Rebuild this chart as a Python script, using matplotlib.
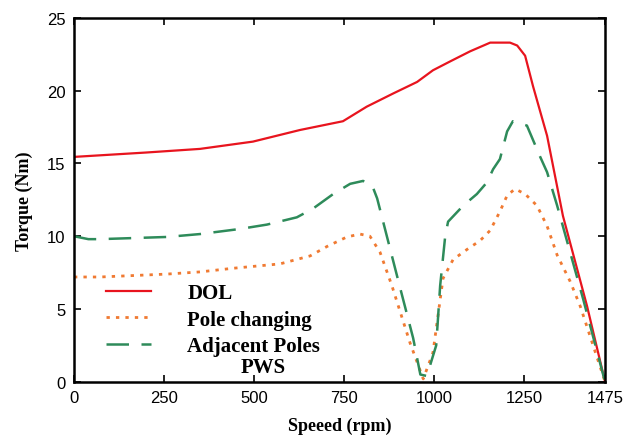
import matplotlib.pyplot as plt

# speed (rpm) / torque (Nm)
dol_speed = [0, 100, 200, 350, 497, 628, 747, 813, 886, 953, 997, 1044, 1100, 1156, 1211, 1231, 1253,
             1275, 1314, 1358, 1425, 1475]
dol_torque = [15.45, 15.6, 15.75, 16.0, 16.5, 17.3, 17.9, 18.9, 19.8, 20.6, 21.4, 22.0, 22.7, 23.3, 23.3,
              23.1, 22.4, 20.3, 16.9, 11.4, 5.2, 0.0]

pole_speed = [0, 72, 258, 350, 442, 572, 656, 703, 758, 794, 822, 850, 883, 933, 970, 997, 1025, 1053,
              1092, 1128, 1156, 1183, 1203, 1225, 1253, 1286, 1314, 1342, 1378, 1406, 1475]
pole_torque = [7.2, 7.2, 7.4, 7.55, 7.8, 8.1, 8.65, 9.3, 9.95, 10.15, 10.0, 8.9, 6.6, 2.7, 0.2, 2.0, 7.1,
               8.4, 9.1, 9.7, 10.4, 11.7, 12.8, 13.25, 12.9, 12.1, 10.7, 8.7, 6.9, 5.2, 0.0]

adj_speed = [0, 40, 72, 258, 350, 461, 536, 619, 664, 720, 767, 803, 828, 842, 869, 897, 942, 962, 980,
             1006, 1017, 1031, 1039, 1081, 1119, 1147, 1164, 1183, 1203, 1219, 1258, 1294, 1314, 1342,
             1378, 1414, 1475]
adj_torque = [10.0, 9.8, 9.8, 9.95, 10.15, 10.5, 10.8, 11.3, 11.9, 12.9, 13.6, 13.8, 13.5, 12.6, 10.0,
              7.3, 3.0, 0.5, 0.4, 2.5, 6.6, 10.0, 11.0, 12.1, 12.9, 13.7, 14.6, 15.3, 17.2, 17.9, 17.6,
              15.5, 14.4, 12.1, 8.9, 5.7, 0.0]

labels = ['DOL', 'Pole changing', 'Adjacent Poles']
extra_label = 'PWS'
xticks = [0, 250, 500, 750, 1000, 1250, 1475]
yticks = [0, 5, 10, 15, 20, 25]

plt.rcParams['font.family'] = ['Liberation Sans', 'DejaVu Sans']

fig = plt.figure(figsize=(6.27, 4.39), dpi=100)
ax = fig.add_axes([0.118, 0.128, 0.847, 0.829])

ax.plot(dol_speed, dol_torque, color='#e8141e', lw=1.6, label=labels[0])
ax.plot(pole_speed, pole_torque, color='#f07a32', lw=2.0, linestyle=(0, (1.2, 2.2)), label=labels[1])
ax.plot(adj_speed, adj_torque, color='#2e8b5a', lw=1.8, linestyle=(0, (9, 5)), label=labels[2])

ax.set_xlim(0, 1475)
ax.set_ylim(0, 25)
ax.set_xticks(xticks)
ax.set_yticks(yticks)
ax.tick_params(direction='in', top=True, right=True, labeltop=False, labelright=False,
               labelsize=12, length=5, width=1.2, pad=6)
for sp in ax.spines.values():
    sp.set_linewidth(1.8)

serif_bold = {'family': 'Liberation Serif', 'weight': 'bold', 'size': 13}
ax.set_xlabel('Speeed (rpm)', fontdict=serif_bold, labelpad=8)
ax.set_ylabel('Torque (Nm)', fontdict=serif_bold, labelpad=10)

ax.legend(loc='upper left', bbox_to_anchor=(0.025, 0.322), frameon=False, handlelength=2.15,
          handletextpad=1.75, labelspacing=0.3,
          prop={'family': 'Liberation Serif', 'weight': 'bold', 'size': 15})
ax.text(0.356, 0.04, extra_label, transform=ax.transAxes, ha='center', va='center',
        family='Liberation Serif', fontweight='bold', fontsize=15)

fig.savefig('out.png', dpi=100)
